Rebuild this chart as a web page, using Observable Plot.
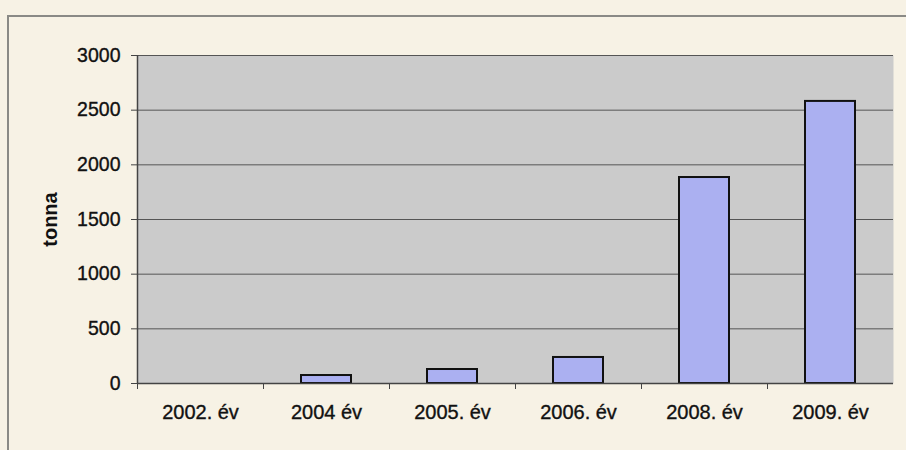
<!DOCTYPE html>
<html>
<head>
<meta charset="utf-8">
<script src="https://cdn.jsdelivr.net/npm/d3@7"></script>
<script src="https://cdn.jsdelivr.net/npm/@observablehq/plot@0.6"></script>
<style>
  html, body { margin: 0; padding: 0; background: #f7f2e5; }
  #wrap { position: relative; width: 906px; height: 450px; overflow: hidden; }
  #frame { position: absolute; left: 7px; top: 15px; width: 920px; height: 460px;
           border-left: 2px solid #8a8a86; border-top: 2px solid #8a8a86; box-sizing: border-box; }
  #chart { position: absolute; left: 0; top: 0; }
  #chart svg g[aria-label="y-axis tick label"] text { font-size: 19.5px; stroke: #111; stroke-width: 0.35px; }
  #chart svg g[aria-label="x-axis tick label"] text { font-size: 20px; stroke: #111; stroke-width: 0.35px; }
</style>
</head>
<body>
<div id="wrap"><div id="frame"></div><div id="chart"></div></div>
<script>
const categories = ["2002. év", "2004 év", "2005. év", "2006. év", "2008. év", "2009. év"];
const values = [0, 73, 128, 238, 1884, 2580];
const yTicks = [0, 500, 1000, 1500, 2000, 2500, 3000];
const yTitle = "tonna";

const data = categories.map((c, i) => ({cat: c, value: values[i]}));

const W = 906, H = 450, ML = 137, MR = 13, MT = 55, MB = 67;
const step = (W - ML - MR) / categories.length;
const font = "Arial, 'Liberation Sans', sans-serif";

const chart = Plot.plot({
  width: W, height: H,
  marginLeft: ML, marginRight: MR, marginTop: MT, marginBottom: MB,
  style: {background: "transparent", fontFamily: font, fontSize: "19px", color: "#111"},
  x: {domain: categories, paddingInner: 0.6, paddingOuter: 0.3, label: null},
  y: {domain: [0, 3000], ticks: yTicks, label: null},
  marks: [
    Plot.frame({fill: "#cbcbcb", stroke: null}),
    Plot.gridY(yTicks, {stroke: "#555", strokeOpacity: 1, strokeWidth: 1}),
    Plot.barY(data, {x: "cat", y: "value", fill: "#abb0f1", stroke: "#111", strokeWidth: 2}),
    Plot.ruleX([categories[0]], {dx: -step / 2, stroke: "#444", strokeWidth: 1.5}),
    Plot.ruleY([0], {stroke: "#444", strokeWidth: 1.5}),
    Plot.axisY(yTicks, {tickSize: 6, tickPadding: 11, stroke: "#444",
      tickFormat: d => String(d), label: null}),
    Plot.axisX(categories, {tickSize: 6, dx: -step / 2, stroke: "#444", tickFormat: () => "", label: null}),
    Plot.axisX({tickSize: 0, tickPadding: 21, label: null}),
    Plot.text([yTitle], {y: [1500], frameAnchor: "left", dx: 50 - ML, rotate: -90,
      textAnchor: "middle", lineAnchor: "middle", fontWeight: "bold", fontSize: 20, fill: "#111"})
  ]
});
document.getElementById("chart").appendChild(chart);
</script>
</body>
</html>
